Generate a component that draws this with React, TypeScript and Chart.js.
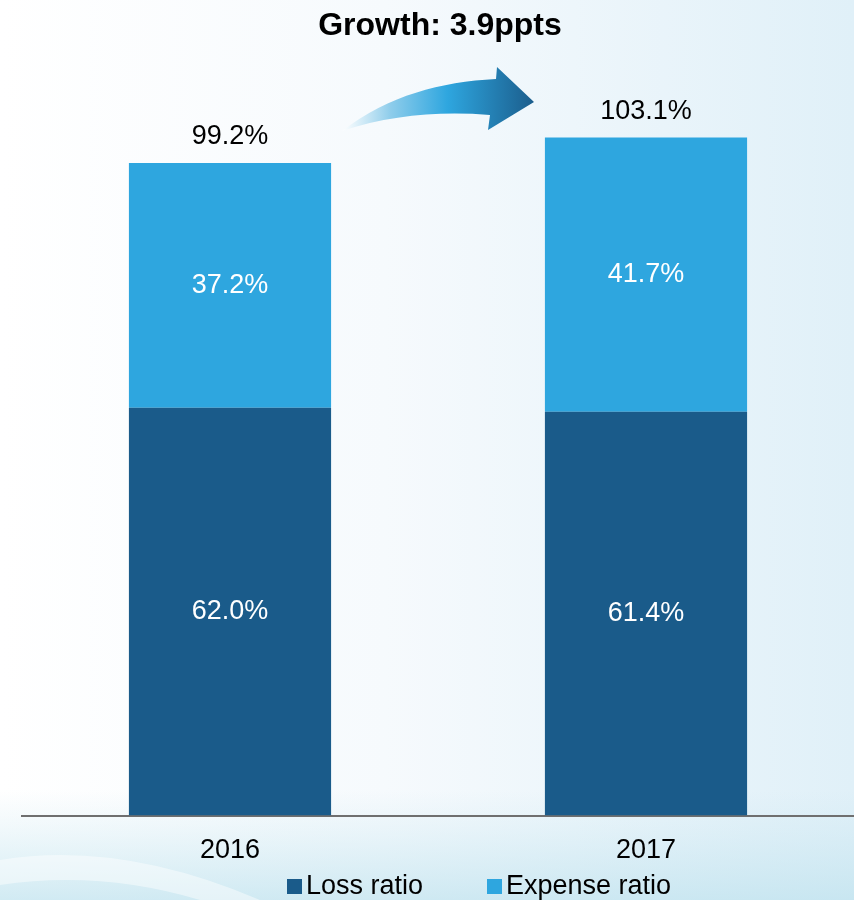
import React, { useEffect, useRef } from "react";
import { Chart, registerables } from "chart.js";

Chart.register(...registerables);

const categories = ["2016", "2017"];
const lossRatio = [62.0, 61.4];
const expenseRatio = [37.2, 41.7];
const combinedRatio = [99.2, 103.1];
const seriesNames = ["Loss ratio", "Expense ratio"];
const titleText = "Growth: 3.9ppts";

const DARK = "#1a5b8a";
const LIGHT = "#2ea6df";
const FONT = "'Liberation Sans', Arial, sans-serif";

const backgroundPlugin = {
  id: "bg",
  beforeDraw(chart: any) {
    const { ctx, width, height } = chart;
    ctx.save();
    const g = ctx.createLinearGradient(0, 0, width, 0);
    g.addColorStop(0, "#ffffff");
    g.addColorStop(0.45, "#f6fafd");
    g.addColorStop(1, "#e0f0f8");
    ctx.fillStyle = g;
    ctx.fillRect(0, 0, width, height);
    const g2 = ctx.createLinearGradient(0, 790, 0, height);
    g2.addColorStop(0, "rgba(200,230,240,0)");
    g2.addColorStop(1, "rgba(190,226,238,0.7)");
    ctx.fillStyle = g2;
    ctx.fillRect(0, 790, width, height - 790);
    ctx.beginPath();
    ctx.moveTo(0, 860);
    ctx.quadraticCurveTo(120, 840, 260, 900);
    ctx.lineTo(200, 900);
    ctx.quadraticCurveTo(100, 870, 0, 885);
    ctx.closePath();
    ctx.fillStyle = "rgba(255,255,255,0.45)";
    ctx.fill();
    ctx.restore();
  },
};

const overlayPlugin = {
  id: "overlay",
  afterDatasetsDraw(chart: any) {
    const { ctx } = chart;
    ctx.save();
    ctx.font = `27px ${FONT}`;
    ctx.textAlign = "center";
    ctx.textBaseline = "middle";
    chart.data.datasets.forEach((ds: any, di: number) => {
      const meta = chart.getDatasetMeta(di);
      meta.data.forEach((el: any, i: number) => {
        ctx.fillStyle = "#ffffff";
        ctx.fillText(ds.data[i].toFixed(1) + "%", el.x, (el.y + el.base) / 2);
      });
    });
    const topMeta = chart.getDatasetMeta(1);
    topMeta.data.forEach((el: any, i: number) => {
      ctx.fillStyle = "#000000";
      ctx.fillText(combinedRatio[i].toFixed(1) + "%", el.x, el.y - 26);
    });

    ctx.font = `bold 32px ${FONT}`;
    ctx.fillStyle = "#000000";
    ctx.fillText(titleText, 440, 26);

    ctx.font = `27px ${FONT}`;
    ctx.textAlign = "left";
    const colors = [DARK, LIGHT];
    const xs = [287, 487];
    seriesNames.forEach((name, i) => {
      ctx.fillStyle = colors[i];
      ctx.fillRect(xs[i], 879, 15, 15);
      ctx.fillStyle = "#000000";
      ctx.fillText(name, xs[i] + 19, 887);
    });

    ctx.beginPath();
    ctx.moveTo(342, 131);
    ctx.bezierCurveTo(390, 95, 440, 82, 496, 79);
    ctx.lineTo(497, 67);
    ctx.lineTo(534, 102);
    ctx.lineTo(488, 130);
    ctx.lineTo(490, 115);
    ctx.bezierCurveTo(440, 111, 390, 115, 342, 131);
    ctx.closePath();
    const ag = ctx.createLinearGradient(342, 0, 534, 0);
    ag.addColorStop(0, "rgba(255,255,255,0.9)");
    ag.addColorStop(0.25, "#8fcdeb");
    ag.addColorStop(0.55, "#2ea6df");
    ag.addColorStop(1, "#1b5d8c");
    ctx.fillStyle = ag;
    ctx.fill();
    ctx.restore();
  },
};

export default function App() {
  const ref = useRef<HTMLCanvasElement>(null);
  useEffect(() => {
    if (!ref.current) return;
    const chart = new Chart(ref.current, {
      type: "bar",
      data: {
        labels: categories,
        datasets: [
          { label: seriesNames[0], data: lossRatio, backgroundColor: DARK, borderWidth: 0 },
          { label: seriesNames[1], data: expenseRatio, backgroundColor: LIGHT, borderWidth: 0 },
        ],
      },
      options: {
        animation: false,
        responsive: false,
        devicePixelRatio: 1,
        layout: { padding: { top: 92, left: 22, right: 0, bottom: 14 } },
        plugins: {
          legend: { display: false },
          title: { display: false },
          tooltip: { enabled: false },
        },
        datasets: { bar: { categoryPercentage: 0.486, barPercentage: 1 } },
        scales: {
          x: {
            stacked: true,
            grid: { display: false, drawTicks: false },
            border: { display: true, color: "#6f6f6f", width: 2 },
            ticks: { color: "#000000", font: { size: 27, family: FONT }, padding: 19 },
          },
          y: {
            stacked: true,
            display: false,
            min: 0,
            max: 110,
          },
        },
      },
      plugins: [backgroundPlugin, overlayPlugin],
    });
    return () => chart.destroy();
  }, []);
  return (
    <div style={{ position: "absolute", left: 0, top: 0, width: 854, height: 900 }}>
      <canvas ref={ref} width={854} height={900} style={{ display: "block" }} />
    </div>
  );
}
